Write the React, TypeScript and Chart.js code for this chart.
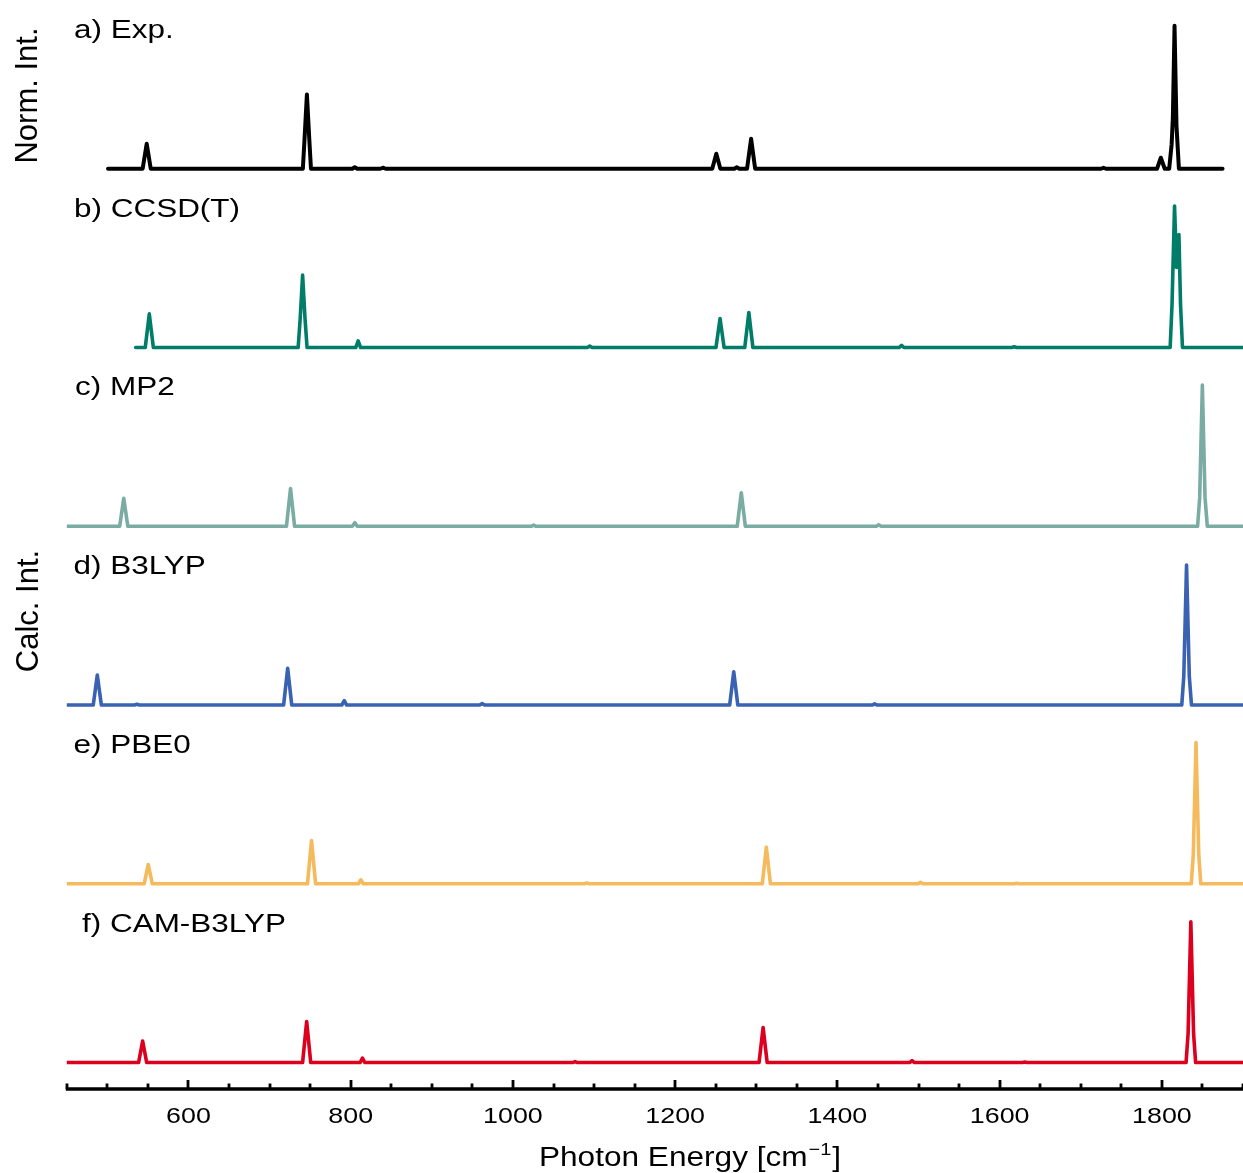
import React, { useEffect, useRef } from "react";
import { Chart, registerables } from "chart.js";

Chart.register(...registerables);

const FONT = '"Liberation Sans", Arial, Helvetica, sans-serif';

// ---- axis ----
const xMin = 450;
const xMax = 1900;
const yMax = 7.615;
const majorTicks = [600, 800, 1000, 1200, 1400, 1600, 1800];
const minorTicks = [450, 500, 550, 650, 700, 750, 850, 900, 950, 1050, 1100, 1150, 1250, 1300, 1350, 1450, 1500, 1550, 1650, 1700, 1750, 1850, 1900];
const xTitle = "Photon Energy [cm";
const xTitleSup = "\u22121";
const yTitleTop = "Norm. Int.";
const yTitleBottom = "Calc. Int.";

// ---- panels ----
const panelLabels = ["a) Exp.", "b) CCSD(T)", "c) MP2", "d) B3LYP", "e) PBE0", "f) CAM-B3LYP"];
const panelColors = ["#000000", "#007d69", "#7aaca4", "#3a62b2", "#f5ba5c", "#dc001e"];
const panelOffsets = [6.435, 5.185, 3.935, 2.685, 1.435, 0.185];

// ---- spectra: [wavenumber, normalised intensity] ----
const expSpectrum: [number, number][] = [
  [500.8, 0], [543.5, 0], [548.5, 0.175], [553.5, 0],
  [741, 0], [743, 0.2], [746, 0.52], [749, 0.2], [751, 0],
  [802, 0], [805, 0.011], [808, 0],
  [836.5, 0], [839.7, 0.007], [843, 0],
  [1245.7, 0], [1250.7, 0.105], [1255.7, 0],
  [1273, 0], [1276, 0.01], [1279, 0],
  [1288.6, 0], [1293.6, 0.21], [1298.6, 0],
  [1725, 0], [1728, 0.007], [1731, 0],
  [1794, 0], [1798.7, 0.077], [1803.5, 0],
  [1809, 0], [1812, 0.17], [1813.5, 0.35], [1815.6, 1.0], [1818, 0.3], [1821, 0],
  [1874.8, 0],
];

const ccsdtSpectrum: [number, number][] = [
  [534.9, 0], [546.7, 0], [551.7, 0.235], [556.7, 0],
  [735.2, 0], [737.7, 0.2], [740.7, 0.506], [743.7, 0.2], [746.2, 0],
  [806.2, 0], [809.2, 0.046], [812.2, 0],
  [1091.7, 0], [1094.7, 0.01], [1097.7, 0],
  [1250.3, 0], [1255.3, 0.203], [1260.3, 0],
  [1285.8, 0], [1290.8, 0.245], [1295.8, 0],
  [1476, 0], [1479.1, 0.015], [1482, 0],
  [1615, 0], [1618, 0.005], [1621, 0],
  [1810.2, 0], [1812.5, 0.3], [1815.6, 0.99], [1818.1, 0.56], [1821, 0.79], [1823, 0.3], [1825.4, 0],
  [1900, 0],
];

const mp2Spectrum: [number, number][] = [
  [450, 0], [515.2, 0], [520.2, 0.196], [525.2, 0],
  [720.8, 0], [725.8, 0.264], [730.8, 0],
  [802, 0], [805.1, 0.025], [808, 0],
  [1022.5, 0], [1025.5, 0.008], [1028.5, 0],
  [1276.5, 0], [1281.5, 0.234], [1286.5, 0],
  [1448, 0], [1450.9, 0.01], [1454, 0],
  [1844, 0], [1846.6, 0.2], [1849.9, 0.988], [1853.2, 0.2], [1856, 0],
  [1900, 0],
];

const b3lypSpectrum: [number, number][] = [
  [450, 0], [482.6, 0], [487.6, 0.21], [492.6, 0],
  [533.5, 0], [536.5, 0.005], [539.5, 0],
  [717.3, 0], [722.3, 0.257], [727.3, 0],
  [789, 0], [792.1, 0.03], [795, 0],
  [959, 0], [962.1, 0.01], [965, 0],
  [1267.2, 0], [1272.2, 0.233], [1277.2, 0],
  [1443, 0], [1445.9, 0.008], [1449, 0],
  [1824.5, 0], [1827, 0.2], [1830.4, 0.979], [1833.8, 0.2], [1836.5, 0],
  [1900, 0],
];

const pbe0Spectrum: [number, number][] = [
  [450, 0], [545.4, 0], [550.4, 0.135], [555.4, 0],
  [746.7, 0], [751.7, 0.303], [756.7, 0],
  [809.5, 0], [812.5, 0.028], [815.5, 0],
  [1088, 0], [1091, 0.005], [1094, 0],
  [1307.4, 0], [1312.4, 0.256], [1317.4, 0],
  [1499.4, 0], [1502.4, 0.01], [1505.4, 0],
  [1618, 0], [1621, 0.004], [1624, 0],
  [1836.2, 0], [1838.7, 0.2], [1842.1, 0.988], [1845.5, 0.2], [1848, 0],
  [1900, 0],
];

const camb3lypSpectrum: [number, number][] = [
  [450, 0], [538.5, 0], [543.5, 0.15], [548.5, 0],
  [740.7, 0], [745.7, 0.287], [750.7, 0],
  [811.5, 0], [814.5, 0.031], [817.5, 0],
  [1073.6, 0], [1076.6, 0.007], [1079.6, 0],
  [1303.4, 0], [1308.4, 0.245], [1313.4, 0],
  [1489, 0], [1492, 0.014], [1495, 0],
  [1628, 0], [1631, 0.004], [1634, 0],
  [1829.8, 0], [1832.3, 0.2], [1835.7, 0.984], [1839.1, 0.2], [1841.6, 0],
  [1900, 0],
];

const spectra = [expSpectrum, ccsdtSpectrum, mp2Spectrum, b3lypSpectrum, pbe0Spectrum, camb3lypSpectrum];

const W = 1243;
const H = 1173;

function stretchedText(ctx: CanvasRenderingContext2D, text: string, x: number, y: number, sx: number, align: CanvasTextAlign) {
  ctx.save();
  ctx.translate(x, y);
  ctx.scale(sx, 1);
  ctx.textAlign = align;
  ctx.textBaseline = "alphabetic";
  ctx.fillText(text, 0, 0);
  ctx.restore();
}

const decorPlugin = {
  id: "decor",
  afterDraw(chart: any) {
    const ctx: CanvasRenderingContext2D = chart.ctx;
    const xs = chart.scales.x;
    const ys = chart.scales.y;
    const axisY = chart.chartArea.bottom;
    ctx.save();
    ctx.fillStyle = "#000";
    ctx.strokeStyle = "#000";

    // axis line
    ctx.lineWidth = 3.5;
    ctx.beginPath();
    ctx.moveTo(xs.getPixelForValue(xMin) - 1, axisY);
    ctx.lineTo(xs.getPixelForValue(xMax) + 2, axisY);
    ctx.stroke();

    // ticks (inward)
    ctx.lineWidth = 2.8;
    ctx.beginPath();
    for (const v of minorTicks) {
      const px = Math.round(xs.getPixelForValue(v));
      ctx.moveTo(px, axisY);
      ctx.lineTo(px, axisY - 5.5);
    }
    for (const v of majorTicks) {
      const px = Math.round(xs.getPixelForValue(v));
      ctx.moveTo(px, axisY);
      ctx.lineTo(px, axisY - 9);
    }
    ctx.stroke();

    // tick labels
    ctx.font = `22px ${FONT}`;
    for (const v of majorTicks) {
      stretchedText(ctx, String(v), xs.getPixelForValue(v), axisY + 34, 1.22, "center");
    }

    // x title with superscript
    const titleFont = `27px ${FONT}`;
    const supFont = `17px ${FONT}`;
    const sx = 1.17;
    ctx.font = titleFont;
    const w1 = ctx.measureText(xTitle).width * sx;
    const w3 = ctx.measureText("]").width * sx;
    ctx.font = supFont;
    const w2 = ctx.measureText(xTitleSup).width * sx;
    const total = w1 + w2 + w3 + 2;
    let tx = 690 - total / 2;
    const tb = axisY + 77;
    ctx.font = titleFont;
    stretchedText(ctx, xTitle, tx, tb, sx, "left");
    tx += w1 + 1;
    ctx.font = supFont;
    stretchedText(ctx, xTitleSup, tx, tb - 11, sx, "left");
    tx += w2 + 1;
    ctx.font = titleFont;
    stretchedText(ctx, "]", tx, tb, sx, "left");

    // panel labels
    const labelX = [74, 74, 75, 73.5, 73.5, 82];
    ctx.font = `26px ${FONT}`;
    panelLabels.forEach((lab, i) => {
      const base = ys.getPixelForValue(panelOffsets[i]);
      stretchedText(ctx, lab, labelX[i], base - 131, 1.21, "left");
    });

    // vertical titles
    ctx.font = `31px ${FONT}`;
    const vert = (text: string, cx: number, cy: number) => {
      ctx.save();
      ctx.translate(cx, cy);
      ctx.rotate(-Math.PI / 2);
      ctx.textAlign = "center";
      ctx.textBaseline = "alphabetic";
      ctx.fillText(text, 0, 0);
      ctx.restore();
    };
    vert(yTitleTop, 37, 95.5);
    vert(yTitleBottom, 38, 611);

    ctx.restore();
  },
};

export default function App() {
  const ref = useRef<HTMLCanvasElement | null>(null);
  useEffect(() => {
    if (!ref.current) return;
    const datasets = spectra.map((pts, i) => ({
      label: panelLabels[i],
      data: pts.map(([x, y]) => ({ x, y: y + panelOffsets[i] })),
      borderColor: panelColors[i],
      backgroundColor: panelColors[i],
      borderWidth: i === 0 ? 4 : 3.6,
      pointRadius: 0,
      tension: 0,
      fill: false,
      borderJoinStyle: "round" as const,
      borderCapStyle: "round" as const,
    }));
    const chart = new Chart(ref.current, {
      type: "line",
      data: { datasets },
      options: {
        animation: false,
        responsive: false,
        maintainAspectRatio: false,
        layout: { padding: { left: 66.8, right: 0, top: 0, bottom: 84 } },
        scales: {
          x: { type: "linear", min: xMin, max: xMax, display: false },
          y: { type: "linear", min: 0, max: yMax, display: false },
        },
        plugins: { legend: { display: false }, tooltip: { enabled: false } },
      },
      plugins: [decorPlugin],
    });
    return () => chart.destroy();
  }, []);
  return (
    <div style={{ position: "absolute", left: 0, top: 0, width: W, height: H, overflow: "hidden", background: "#fff" }}>
      <canvas ref={ref} width={W} height={H} style={{ display: "block", width: W, height: H }} />
    </div>
  );
}
